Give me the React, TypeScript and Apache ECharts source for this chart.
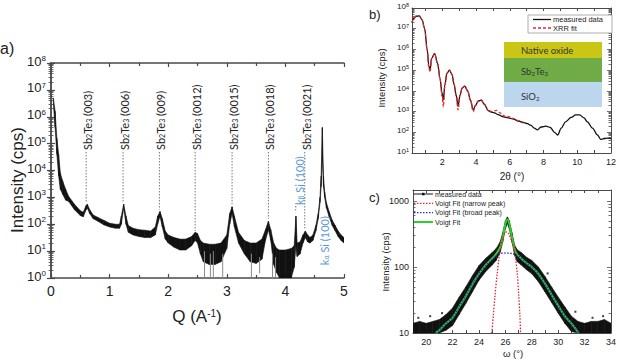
import { useEffect, useRef } from 'react';
import * as echarts from 'echarts';

const FONT = '"Liberation Sans", Arial, sans-serif';
const LABEL_FONT = 'Lato, "Open Sans", sans-serif';
const INK = '#222';
const AXIS = '#4a4a4a';
const SI_BLUE = '#5b9bd5';

// ---------- a) XRD scan: upper / lower envelope of the noisy trace ----------
const qA = [0.04, 0.07, 0.1, 0.13, 0.16, 0.2, 0.25, 0.3, 0.4, 0.5, 0.55, 0.6, 0.62, 0.66, 0.72, 0.8, 0.9, 1.0, 1.1, 1.17, 1.2, 1.24, 1.28, 1.32, 1.4, 1.5, 1.6, 1.7, 1.78, 1.82, 1.86, 1.9, 1.95, 2.0, 2.1, 2.2, 2.3, 2.4, 2.46, 2.5, 2.55, 2.6, 2.7, 2.8, 2.9, 3.0, 3.05, 3.09, 3.13, 3.2, 3.3, 3.4, 3.5, 3.6, 3.66, 3.71, 3.75, 3.8, 3.85, 3.9, 4.0, 4.1, 4.15, 4.18, 4.2, 4.25, 4.3, 4.34, 4.38, 4.42, 4.47, 4.52, 4.56, 4.59, 4.61, 4.63, 4.65, 4.67, 4.7, 4.75, 4.8, 4.85, 4.9, 4.95, 5.0];
const hiA = [5.0e6, 1.6e6, 1.6e5, 4.0e4, 7.9e3, 4.0e3, 2.0e3, 1.1e3, 560, 320, 280, 500, 560, 350, 220, 180, 140, 110, 100, 100, 200, 560, 200, 89, 71, 63, 60, 56, 79, 200, 300, 160, 56, 40, 32, 28, 28, 35, 50, 45, 25, 20, 18, 18, 20, 40, 250, 450, 200, 50, 25, 20, 20, 28, 63, 130, 63, 20, 12.6, 11, 11, 12.6, 16, 200, 20, 22, 40, 56, 40, 32, 40, 89, 250, 1.0e3, 6.3e3, 4.0e5, 6.3e3, 1.6e3, 630, 280, 140, 89, 56, 40, 32];
const loA = [3.2e6, 4.0e5, 4.0e4, 6.3e3, 2.0e3, 1.3e3, 790, 710, 350, 210, 190, 350, 400, 250, 160, 130, 95, 79, 71, 71, 100, 400, 100, 50, 40, 35, 32, 32, 40, 100, 200, 79, 28, 20, 14, 11, 11, 16, 25, 20, 7.9, 4, 3.2, 3.2, 4, 12.6, 100, 250, 79, 20, 7.9, 4, 3.5, 5, 25, 63, 25, 3.2, 1.6, 1, 1, 1, 2.5, 16, 6.3, 7.9, 20, 32, 22, 20, 25, 56, 160, 630, 2.5e3, 3.2e4, 2.5e3, 1.0e3, 400, 180, 89, 56, 35, 25, 20];
// single-point drop-outs reaching the bottom of the scale
const dropQ = [2.62, 2.72, 2.77, 2.93, 3.42, 3.56, 3.78, 3.83];
const dropTop = [10, 8, 10, 8, 8, 6, 8, 6];
const dropBottom = [1, 1, 1, 1, 1, 1.5, 1, 1];

// Sb2Te3 (00l) reflections
const sbQ = [0.6, 1.23, 1.85, 2.46, 3.09, 3.71, 4.33];
const sbIndex = ['(003)', '(006)', '(009)', '(0012)', '(0015)', '(0018)', '(0021)'];
const sbLineEnd = [710, 710, 350, 56, 560, 160, 71];
const sbLabelBase = 5.8e4;
// Si (100) substrate reflections
const siQ = [4.21, 4.64];
const siLine = ['β', 'α'];
const siLineEnd = [280, 0];
const siLabelBase = [520, 3];

// ---------- b) XRR ----------
const ttB = [0.2, 0.3, 0.45, 0.63, 0.8, 0.95, 1.1, 1.2, 1.27, 1.36, 1.54, 1.72, 1.86, 1.98, 2.06, 2.15, 2.27, 2.42, 2.57, 2.7, 2.82, 2.93, 3.05, 3.18, 3.33, 3.5, 3.67, 3.83, 3.97, 4.12, 4.3, 4.5, 4.72, 4.9, 5.05, 5.3, 5.63, 5.9, 6.23, 6.5, 6.83, 7.05, 7.24, 7.45, 7.64, 7.85, 8.14, 8.4, 8.65, 8.84, 9.05, 9.3, 9.64, 9.9, 10.14, 10.4, 10.6, 10.9, 11.2, 11.4, 11.6, 11.8, 12.0];
const measB = [2.0e7, 3.2e7, 4.0e7, 4.2e7, 2.7e7, 1.0e7, 1.0e6, 1.6e5, 1.0e5, 3.7e5, 6.3e5, 2.1e5, 4.0e4, 7.9e3, 3.6e3, 2.0e4, 7.1e4, 1.0e5, 6.3e4, 2.0e4, 6.3e3, 1.8e3, 6.3e3, 1.4e4, 1.7e4, 1.0e4, 3.5e3, 1.2e3, 2.0e3, 3.2e3, 3.6e3, 2.2e3, 1.1e3, 950, 890, 720, 550, 500, 430, 350, 290, 260, 220, 160, 130, 180, 200, 170, 100, 74, 160, 320, 520, 690, 690, 500, 320, 160, 74, 45, 50, 52, 50];
const ttFit = [0.2, 0.3, 0.45, 0.63, 0.8, 0.95, 1.1, 1.2, 1.27, 1.36, 1.54, 1.72, 1.86, 1.98, 2.06, 2.15, 2.27, 2.42, 2.57, 2.7, 2.82, 2.93, 3.05, 3.18, 3.33, 3.5, 3.67, 3.83, 3.97, 4.12, 4.3, 4.5, 4.72, 4.95, 5.2, 5.45, 5.7, 6.0, 6.25, 6.5, 6.8];
const fitB = [2.0e7, 3.2e7, 4.0e7, 4.1e7, 2.6e7, 9.5e6, 9.0e5, 1.3e5, 8.0e4, 3.5e5, 6.3e5, 2.1e5, 3.8e4, 5.6e3, 1.7e3, 1.8e4, 7.1e4, 1.0e5, 6.3e4, 2.0e4, 5.6e3, 1.2e3, 6.0e3, 1.4e4, 1.7e4, 1.0e4, 3.4e3, 1.0e3, 2.0e3, 3.3e3, 3.7e3, 2.3e3, 1.1e3, 1.0e3, 1.15e3, 850, 600, 560, 450, 360, 300];

// ---------- c) rocking curve ----------
const omC = [19.0, 19.5, 20.0, 20.5, 21.0, 21.5, 22.0, 22.5, 23.0, 23.5, 24.0, 24.5, 25.0, 25.3, 25.6, 25.8, 26.0, 26.15, 26.3, 26.5, 26.7, 26.9, 27.2, 27.6, 28.0, 28.5, 29.0, 29.5, 30.0, 30.5, 31.0, 31.5, 32.0, 32.5, 33.0, 33.5, 34.0];
const hiC = [14, 15, 14, 15, 16, 19, 24, 35, 50, 74, 105, 135, 166, 190, 240, 331, 501, 575, 501, 331, 214, 182, 166, 141, 126, 100, 72, 50, 35, 25, 18, 15, 14, 15, 15, 16, 14];
const loC = [10, 10, 10, 10, 10, 11, 13, 19, 28, 42, 63, 85, 107, 126, 166, 240, 380, 457, 380, 240, 151, 120, 107, 91, 79, 60, 42, 29, 20, 14, 10.5, 10, 10, 10, 10, 10, 10];
const strayOm = [19.4, 20.3, 21.2, 22.4, 23.4, 29.2, 31.3, 32.6, 33.4];
const strayI = [17, 18, 20, 29, 62, 80, 21, 17, 18];
const omFit = [20.7, 21.0, 21.5, 22.0, 22.5, 23.0, 23.5, 24.0, 24.5, 25.0, 25.3, 25.6, 25.8, 26.0, 26.15, 26.3, 26.5, 26.7, 26.9, 27.2, 27.6, 28.0, 28.5, 29.0, 29.5, 30.0, 30.5, 31.0, 31.55];
const totalFit = [10, 11, 14, 17, 25, 36, 55, 79, 107, 135, 158, 200, 282, 447, 525, 447, 282, 186, 155, 135, 115, 100, 79, 56, 38, 26, 18, 14, 10];
const omBroad = [20.7, 21.0, 21.5, 22.0, 22.5, 23.0, 23.5, 24.0, 24.5, 25.0, 25.3, 25.6, 26.0, 26.5, 26.9, 27.2, 27.6, 28.0, 28.5, 29.0, 29.5, 30.0, 30.5, 31.0, 31.55];
const broadFit = [10, 11, 14, 17, 25, 36, 55, 79, 105, 130, 150, 160, 163, 160, 152, 135, 115, 100, 79, 56, 38, 26, 18, 14, 10];
const omNarrow = [24.97, 25.08, 25.2, 25.38, 25.5, 25.64, 25.8, 25.95, 26.1, 26.25, 26.4, 26.52, 26.64, 26.78, 26.9, 27.0, 27.1, 27.15];
const narrowFit = [10, 18, 35, 80, 130, 204, 280, 325, 340, 320, 270, 230, 204, 130, 80, 40, 18, 10];

const zip = (xs: number[], ys: number[]) => xs.map((x, i) => [x, ys[i]]);

const isPow10 = (v: number) => Math.abs(Math.log10(v) - Math.round(Math.log10(v))) < 1e-6;

const powRich = (size: number, supSize: number) => ({
  b: { fontSize: size, lineHeight: size + 4, verticalAlign: 'top', color: INK, fontFamily: FONT },
  p: { fontSize: supSize, lineHeight: supSize + 1, verticalAlign: 'top', color: INK, fontFamily: FONT },
});
const powLabel = (v: number) => (isPow10(v) ? `{b|10}{p|${Math.round(Math.log10(v))}}` : '');

const subRich = (size: number, color: string) => ({
  n: { fontSize: size, lineHeight: size + 3, verticalAlign: 'bottom', fill: color, fontFamily: LABEL_FONT },
  s: { fontSize: size * 0.65, lineHeight: size * 0.65 + 2, verticalAlign: 'bottom', fill: color, fontFamily: LABEL_FONT },
});

const axisLine = (w: number) => ({ show: true, lineStyle: { color: AXIS, width: w } });

function bandSeries(xs: number[], hi: number[], lo: number[], axis: number, color: string) {
  const data: number[][] = [];
  for (let i = 0; i < xs.length - 1; i++) data.push([xs[i], hi[i], lo[i], xs[i + 1], hi[i + 1], lo[i + 1]]);
  return {
    type: 'custom',
    xAxisIndex: axis,
    yAxisIndex: axis,
    clip: true,
    silent: true,
    encode: { x: [0, 3], y: [1, 2, 4, 5] },
    data,
    renderItem: (_p: any, api: any) => {
      const a = api.coord([api.value(0), api.value(1)]);
      const b = api.coord([api.value(3), api.value(4)]);
      const c = api.coord([api.value(3), api.value(5)]);
      const d = api.coord([api.value(0), api.value(2)]);
      return {
        type: 'polygon',
        shape: { points: [a, b, c, d] },
        style: { fill: color, stroke: color, lineWidth: 0.6 },
      };
    },
  };
}

export default function App() {
  const ref = useRef<HTMLDivElement>(null);

  useEffect(() => {
    if (!ref.current) return;
    const chart = echarts.init(ref.current, null, { renderer: 'svg' });

    const grids = [
      { left: 51, top: 63, width: 293, height: 215 },
      { left: 412, top: 8, width: 200, height: 145 },
      { left: 413, top: 190, width: 200, height: 143 },
    ];

    const xAxes: any[] = [
      {
        gridIndex: 0, type: 'value', min: 0, max: 5, interval: 1,
        axisLine: axisLine(1.5),
        axisTick: { inside: true, length: 4, lineStyle: { color: AXIS, width: 1.2 } },
        minorTick: { show: true, splitNumber: 2, length: 3, lineStyle: { color: AXIS, width: 1.2 } },
        axisLabel: { fontSize: 14, color: INK, fontFamily: FONT, margin: 6 },
        splitLine: { show: false },
      },
      {
        gridIndex: 0, type: 'value', position: 'top', min: 0, max: 5, interval: 1,
        axisLine: axisLine(1.5),
        axisTick: { inside: true, length: 4, lineStyle: { color: AXIS, width: 1.2 } },
        minorTick: { show: true, splitNumber: 2, length: 3, lineStyle: { color: AXIS, width: 1.2 } },
        axisLabel: { show: false },
        splitLine: { show: false },
      },
      {
        gridIndex: 1, type: 'value', min: 0.2, max: 12,
        axisLine: axisLine(1),
        axisTick: { inside: true, length: 3, customValues: [1, 2, 3, 4, 5, 6, 7, 8, 9, 10, 11], lineStyle: { color: AXIS } },
        axisLabel: { fontSize: 9, color: INK, fontFamily: FONT, margin: 4, customValues: [2, 4, 6, 8, 10, 12] },
        splitLine: { show: false },
      },
      {
        gridIndex: 1, type: 'value', position: 'top', min: 0.2, max: 12,
        axisLine: axisLine(1),
        axisTick: { inside: true, length: 3, customValues: [1, 2, 3, 4, 5, 6, 7, 8, 9, 10, 11], lineStyle: { color: AXIS } },
        axisLabel: { show: false },
        splitLine: { show: false },
      },
      {
        gridIndex: 2, type: 'value', min: 19, max: 34, interval: 1,
        axisLine: axisLine(1),
        axisTick: { inside: true, length: 3, lineStyle: { color: AXIS } },
        axisLabel: {
          fontSize: 9, color: INK, fontFamily: FONT, margin: 4,
          formatter: (v: number) => (v % 2 === 0 ? String(v) : ''),
        },
        splitLine: { show: false },
      },
      {
        gridIndex: 2, type: 'value', position: 'top', min: 19, max: 34, interval: 1,
        axisLine: axisLine(1),
        axisTick: { inside: true, length: 3, lineStyle: { color: AXIS } },
        axisLabel: { show: false },
        splitLine: { show: false },
      },
    ];

    const logAxis = (grid: number, min: number, max: number, split: number, right: boolean, label: any, lw: number, minorSplit: number) => ({
      gridIndex: grid, type: 'log', logBase: 10, min, max, splitNumber: split,
      position: right ? 'right' : 'left',
      axisLine: axisLine(lw),
      axisTick: { inside: true, length: 4, lineStyle: { color: AXIS, width: lw * 0.8 } },
      minorTick: { show: true, splitNumber: minorSplit, length: 2.5, lineStyle: { color: AXIS, width: 0.8 } },
      axisLabel: right ? { show: false } : label,
      splitLine: { show: false },
    });

    const yAxes: any[] = [
      logAxis(0, 1, 1e8, 8, false, { formatter: powLabel, rich: powRich(13, 8), margin: 5 }, 1.5, 9),
      logAxis(0, 1, 1e8, 8, true, null, 1.5, 9),
      logAxis(1, 10, 1e8, 7, false, { formatter: powLabel, rich: powRich(8, 5.5), margin: 3 }, 1, 9),
      logAxis(1, 10, 1e8, 7, true, null, 1, 9),
      logAxis(2, 10, 1470, 2, false, {
        formatter: (v: number) => (isPow10(v) ? String(Math.round(v)) : ''),
        fontSize: 9, color: INK, fontFamily: FONT, margin: 4,
      }, 1, 9),
      logAxis(2, 10, 1470, 2, true, null, 1, 9),
    ];

    const annotationRich = subRich(11, INK);
    const siRich = subRich(11, SI_BLUE);

    const series: any[] = [
      // a) diffractogram
      bandSeries(qA, hiA, loA, 0, '#111'),
      {
        type: 'custom', xAxisIndex: 0, yAxisIndex: 0, clip: true, silent: true,
        data: dropQ.map((q, i) => [q, dropTop[i], dropBottom[i]]),
        renderItem: (_p: any, api: any) => {
          const t = api.coord([api.value(0), api.value(1)]);
          const b = api.coord([api.value(0), api.value(2)]);
          return { type: 'line', shape: { x1: t[0], y1: t[1], x2: b[0], y2: b[1] }, style: { stroke: '#8a8a8a', lineWidth: 1 } };
        },
      },
      {
        type: 'custom', xAxisIndex: 0, yAxisIndex: 0, silent: true, z: 5,
        data: sbQ.map((q, i) => [q, sbLineEnd[i], sbLabelBase]),
        renderItem: (p: any, api: any) => {
          const base = api.coord([api.value(0), api.value(2)]);
          const end = api.coord([api.value(0), api.value(1)]);
          return {
            type: 'group',
            children: [
              { type: 'line', shape: { x1: base[0], y1: base[1] + 2, x2: end[0], y2: end[1] }, style: { stroke: '#555', lineWidth: 0.8, lineDash: [1.5, 1.5] } },
              {
                type: 'text', x: base[0], y: base[1], rotation: Math.PI / 2,
                style: { text: `{n|Sb}{s|2}{n|Te}{s|3}{n| ${sbIndex[p.dataIndex]}}`, rich: annotationRich, align: 'left', verticalAlign: 'middle' },
              },
            ],
          };
        },
      },
      {
        type: 'custom', xAxisIndex: 0, yAxisIndex: 0, silent: true, z: 5,
        data: siQ.map((q, i) => [q, siLineEnd[i] || siLabelBase[i], siLabelBase[i]]),
        renderItem: (p: any, api: any) => {
          const base = api.coord([api.value(0), api.value(2)]);
          const end = api.coord([api.value(0), api.value(1)]);
          const children: any[] = [
            {
              type: 'text', x: base[0], y: base[1], rotation: Math.PI / 2,
              style: { text: `{n|k}{s|${siLine[p.dataIndex]}}{n| Si (100)}`, rich: siRich, align: 'left', verticalAlign: 'middle' },
            },
          ];
          if (siLineEnd[p.dataIndex]) {
            children.push({ type: 'line', shape: { x1: base[0] - 2, y1: base[1] + 1, x2: end[0] - 2, y2: end[1] }, style: { stroke: '#555', lineWidth: 0.8, lineDash: [1.5, 1.5] } });
          }
          return { type: 'group', children };
        },
      },
      // b) reflectivity
      {
        type: 'line', xAxisIndex: 2, yAxisIndex: 2, data: zip(ttB, measB), showSymbol: false,
        smooth: 0.35, smoothMonotone: 'x', lineStyle: { color: '#111', width: 1.3 },
      },
      {
        type: 'line', xAxisIndex: 2, yAxisIndex: 2, data: zip(ttFit, fitB), showSymbol: false,
        smooth: 0.35, smoothMonotone: 'x', lineStyle: { color: '#e3262b', width: 1.3, type: [3, 2] },
      },
      // c) rocking curve
      bandSeries(omC, hiC, loC, 4, '#111'),
      {
        type: 'scatter', xAxisIndex: 4, yAxisIndex: 4, data: zip(strayOm, strayI),
        symbol: 'rect', symbolSize: 2, itemStyle: { color: '#111' },
      },
      {
        type: 'line', xAxisIndex: 4, yAxisIndex: 4, data: zip(omFit, totalFit), showSymbol: false,
        smooth: 0.3, lineStyle: { color: '#2bd12b', width: 2 },
      },
      {
        type: 'line', xAxisIndex: 4, yAxisIndex: 4, data: zip(omNarrow, narrowFit), showSymbol: false,
        smooth: 0.3, lineStyle: { color: '#e8232b', width: 1.3, type: [1.5, 1.5] },
      },
      {
        type: 'line', xAxisIndex: 4, yAxisIndex: 4, data: zip(omBroad, broadFit), showSymbol: false,
        smooth: 0.3, lineStyle: { color: '#2a2ae0', width: 1.3, type: [1.5, 1.5] },
      },
    ];

    const txt = (x: number, y: number, text: string, size: number, extra: any = {}) => ({
      type: 'text', x, y, z: 100, ...extra,
      style: { text, fontSize: size, fontFamily: FONT, fill: INK, align: 'left', verticalAlign: 'middle', ...(extra.style || {}) },
    });

    const graphics: any[] = [
      txt(0, 48, 'a)', 16),
      txt(369, 14, 'b)', 13),
      txt(369, 197, 'c)', 13),
      txt(17, 180, 'Intensity (cps)', 17, { rotation: Math.PI / 2, style: { align: 'center' } }),
      {
        type: 'text', x: 197, y: 318, z: 100,
        style: {
          text: '{t|Q (A}{p|-1}{t|)}', align: 'center', verticalAlign: 'middle',
          rich: {
            t: { fontSize: 17, lineHeight: 20, verticalAlign: 'top', fill: INK, fontFamily: FONT },
            p: { fontSize: 10, lineHeight: 11, verticalAlign: 'top', fill: INK, fontFamily: FONT },
          },
        },
      },
      txt(381, 78, 'Intensity (cps)', 9.5, { rotation: Math.PI / 2, style: { align: 'center' } }),
      txt(512, 176, '2θ (°)', 10, { style: { align: 'center' } }),
      txt(385, 262, 'Intensity (cps)', 9.5, { rotation: Math.PI / 2, style: { align: 'center' } }),
      txt(513, 353.5, 'ω (°)', 9.5, { style: { align: 'center' } }),

      // b) legend
      { type: 'rect', z: 100, shape: { x: 528, y: 15, width: 84, height: 18 }, style: { fill: '#fff', stroke: '#9a9a9a', lineWidth: 0.8 } },
      { type: 'line', z: 101, shape: { x1: 533, y1: 19.5, x2: 551, y2: 19.5 }, style: { stroke: '#111', lineWidth: 1.3 } },
      { type: 'line', z: 101, shape: { x1: 533, y1: 28, x2: 551, y2: 28 }, style: { stroke: '#e3262b', lineWidth: 1.3, lineDash: [3, 2] } },
      txt(553, 19.5, 'measured data', 7.5, { z: 101 }),
      txt(553, 28, 'XRR fit', 7.5, { z: 101 }),

      // b) layer stack sketch
      { type: 'rect', z: 100, shape: { x: 504, y: 42, width: 98, height: 16 }, style: { fill: '#c9c616' } },
      { type: 'rect', z: 100, shape: { x: 504, y: 58, width: 98, height: 24 }, style: { fill: '#6fac46' } },
      { type: 'rect', z: 100, shape: { x: 504, y: 82, width: 98, height: 25 }, style: { fill: '#bcd6ee' } },
      {
        type: 'text', x: 521, y: 50, z: 101,
        style: { text: 'Native oxide', fontSize: 9.5, fontFamily: LABEL_FONT, fill: '#333', verticalAlign: 'middle' },
      },
      {
        type: 'text', x: 521, y: 70, z: 101,
        style: { text: '{n|Sb}{s|2}{n|Te}{s|3}', rich: subRich(9.5, '#333'), verticalAlign: 'middle' },
      },
      {
        type: 'text', x: 521, y: 95, z: 101,
        style: { text: '{n|SiO}{s|2}', rich: subRich(9.5, '#333'), verticalAlign: 'middle' },
      },

      // c) legend
      { type: 'line', z: 101, shape: { x1: 414, y1: 194, x2: 433, y2: 194 }, style: { stroke: '#111', lineWidth: 1 } },
      { type: 'rect', z: 101, shape: { x: 422, y: 192.8, width: 2.5, height: 2.5 }, style: { fill: '#111' } },
      { type: 'line', z: 101, shape: { x1: 414, y1: 203.3, x2: 433, y2: 203.3 }, style: { stroke: '#e8232b', lineWidth: 1.3, lineDash: [1.5, 1.5] } },
      { type: 'line', z: 101, shape: { x1: 414, y1: 212.7, x2: 433, y2: 212.7 }, style: { stroke: '#2a2ae0', lineWidth: 1.3, lineDash: [1.5, 1.5] } },
      { type: 'line', z: 101, shape: { x1: 414, y1: 222, x2: 433, y2: 222 }, style: { stroke: '#2bd12b', lineWidth: 2 } },
      txt(435, 194, 'measured data', 7, { z: 101 }),
      txt(435, 203.3, 'Voigt Fit (narrow peak)', 7, { z: 101 }),
      txt(435, 212.7, 'Voigt Fit (broad peak)', 7, { z: 101 }),
      txt(435, 222, 'Voigt Fit', 7, { z: 101 }),
    ];

    chart.setOption({
      animation: false,
      backgroundColor: '#fff',
      grid: grids,
      xAxis: xAxes,
      yAxis: yAxes,
      series,
      graphic: { elements: graphics },
    });

    return () => chart.dispose();
  }, []);

  return (
    <div
      ref={ref}
      style={{ position: 'fixed', left: 0, top: 0, width: 619, height: 359, background: '#fff' }}
    />
  );
}
